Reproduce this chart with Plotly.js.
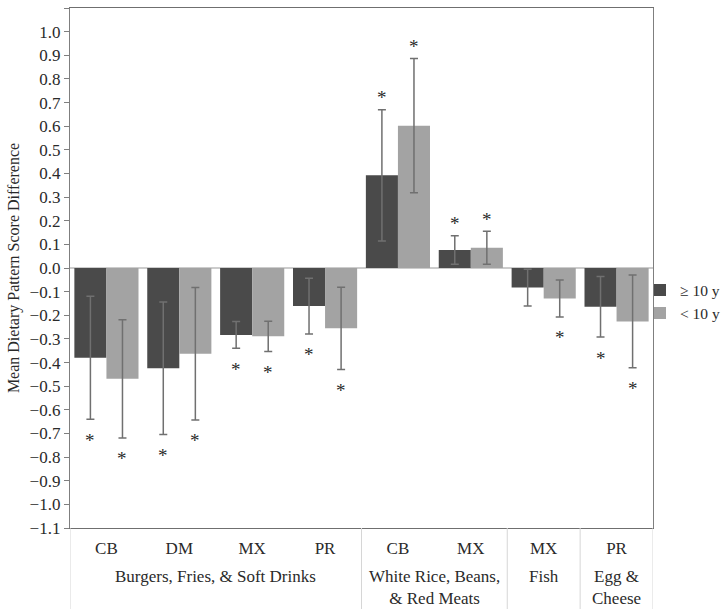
<!DOCTYPE html>
<html>
<head>
<meta charset="utf-8">
<script src="https://cdn.plot.ly/plotly-3.0.1.min.js"></script>
<style>html,body{margin:0;padding:0;background:#fff;}#chart{width:722px;height:609px;}</style>
</head>
<body>
<div id="chart"></div>
<script>
// ---- data ----
var groups = [
  'Burgers, Fries, & Soft Drinks', 'Burgers, Fries, & Soft Drinks',
  'Burgers, Fries, & Soft Drinks', 'Burgers, Fries, & Soft Drinks',
  'White Rice, Beans,<br>& Red Meats', 'White Rice, Beans,<br>& Red Meats',
  'Fish', 'Egg &<br>Cheese'
];
var subs = ['CB', 'DM', 'MX', 'PR', 'CB', 'MX', 'MX', 'PR'];
var seriesNames = ['\u2265 10 y', '< 10 y'];
var darkVals = [-0.380, -0.424, -0.283, -0.161, 0.392, 0.076, -0.083, -0.164];
var darkErr  = [0.260, 0.280, 0.057, 0.118, 0.278, 0.060, 0.078, 0.128];
var darkSig  = [1, 1, 1, 1, 1, 1, 0, 1];
var lightVals = [-0.469, -0.363, -0.289, -0.255, 0.602, 0.086, -0.129, -0.226];
var lightErr  = [0.250, 0.280, 0.064, 0.174, 0.284, 0.070, 0.078, 0.196];
var lightSig  = [1, 1, 1, 1, 1, 1, 1, 1];
var yTicks = [];
for (var t = -11; t <= 11; t++) yTicks.push(t / 10);

// ---- styles ----
var FONT = 'Liberation Serif, Times New Roman, serif';
var DARK = '#4a4a4a', LIGHT = '#a3a3a3', ERR = '#707070', TXT = '#2a2a2a';
var DIV = '#d6d6d6';
var BARGAP = 0.12;

// category positions (one slot per sub-category)
var idx = subs.map(function (s, i) { return i; });

function barTrace(name, vals, errs, color) {
  return {
    type: 'bar', name: name,
    x: idx, y: vals,
    marker: {color: color, line: {width: 0}},
    error_y: {type: 'data', array: errs, visible: true, color: ERR, thickness: 1.5, width: 4}
  };
}

var data = [
  barTrace(seriesNames[0], darkVals, darkErr, DARK),
  barTrace(seriesNames[1], lightVals, lightErr, LIGHT)
];

var annotations = [];
var shapes = [];

// significance asterisks
function addStars(vals, errs, sig, side) {
  var off = (1 - BARGAP) / 4;
  for (var i = 0; i < vals.length; i++) {
    if (!sig[i]) continue;
    var neg = vals[i] < 0;
    annotations.push({
      xref: 'x', yref: 'y',
      x: idx[i] + side * off,
      y: neg ? vals[i] - errs[i] : vals[i] + errs[i],
      text: '*', showarrow: false,
      xanchor: 'center', yanchor: 'middle',
      yshift: neg ? -21 : 12,
      font: {family: FONT, size: 19, color: TXT}
    });
  }
}
addStars(darkVals, darkErr, darkSig, -1);
addStars(lightVals, lightErr, lightSig, 1);

// second-level (group) labels and dividers
function divider(xpos) {
  shapes.push({
    type: 'line', xref: 'x', yref: 'paper',
    x0: xpos, x1: xpos, y0: 0, y1: -0.16,
    line: {color: DIV, width: 1}
  });
}
var start = 0;
for (var i = 1; i <= groups.length; i++) {
  if (i === groups.length || groups[i] !== groups[start]) {
    annotations.push({
      xref: 'x', yref: 'paper',
      x: (idx[start] + idx[i - 1]) / 2, y: 0,
      xanchor: 'center', yanchor: 'top', yshift: -37,
      text: groups[start], showarrow: false, align: 'center',
      font: {family: FONT, size: 17, color: TXT}
    });
    divider(idx[start] - 0.5);
    start = i;
  }
}
divider(idx[idx.length - 1] + 0.5);

var layout = {
  width: 722, height: 609,
  margin: {l: 70, r: 69, t: 8, b: 81, autoexpand: false},
  paper_bgcolor: '#fff', plot_bgcolor: '#fff',
  barmode: 'group', bargap: BARGAP, bargroupgap: 0,
  font: {family: FONT, size: 17, color: TXT},
  showlegend: true,
  legend: {
    x: 0.9777, xanchor: 'left', y: 0.435, yanchor: 'middle',
    font: {family: FONT, size: 15.5, color: TXT},
    bgcolor: 'rgba(0,0,0,0)', itemwidth: 30, tracegroupgap: 0
  },
  xaxis: {
    type: 'linear', range: [-0.5, subs.length - 0.5],
    tickvals: idx, ticktext: subs,
    showline: true, linecolor: '#6f6f6f', linewidth: 1.2, mirror: true,
    ticks: '', showgrid: false, zeroline: false,
    ticklabelstandoff: 4,
    tickfont: {family: FONT, size: 17, color: TXT}
  },
  yaxis: {
    range: [-1.1, 1.1], tickvals: yTicks, tickformat: '.1f',
    showline: true, linecolor: '#7f7f7f', linewidth: 1.2, mirror: true,
    ticks: 'outside', ticklen: 5, tickcolor: '#7f7f7f',
    showgrid: false,
    zeroline: true, zerolinecolor: '#cccccc', zerolinewidth: 2,
    tickfont: {family: FONT, size: 17, color: TXT},
    title: {text: 'Mean Dietary Pattern Score Difference', font: {family: FONT, size: 16, color: TXT}, standoff: 6}
  },
  shapes: shapes,
  annotations: annotations
};

Plotly.newPlot('chart', data, layout, {displayModeBar: false, staticPlot: true});
</script>
</body>
</html>
